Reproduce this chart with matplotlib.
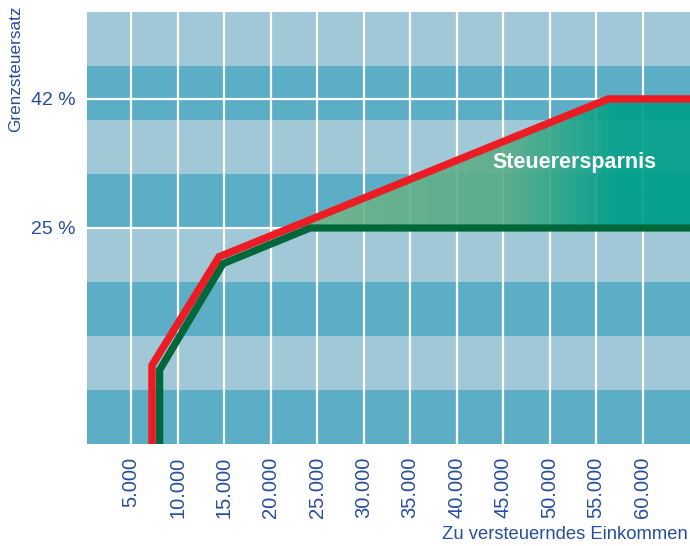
import numpy as np
import matplotlib.pyplot as plt
import matplotlib.transforms as mtransforms
from matplotlib.colors import LinearSegmentedColormap
from matplotlib.patches import Polygon

# income (EUR) and marginal rate (%)
income_red = [7260, 7260, 14460, 56300, 65100]
rate_red = [-5, 6.9, 21.2, 42, 42]
income_green = [8080, 8080, 14890, 24250, 65100]
rate_green = [-5, 6.3, 20.3, 25, 25]

xticks = [5000, 10000, 15000, 20000, 25000, 30000, 35000, 40000, 45000, 50000, 55000, 60000]
xticklabels = ['5.000', '10.000', '15.000', '20.000', '25.000', '30.000',
               '35.000', '40.000', '45.000', '50.000', '55.000', '60.000']
yticks = [25, 42]
yticklabels = ['25 %', '42 %']

blue_txt = '#274e9e'
light_band = '#a0c8d7'
dark_band = '#5cadc6'
red = '#ec1c24'
green = '#006838'

plt.rcParams['font.family'] = ['Liberation Sans', 'DejaVu Sans']

fig = plt.figure(figsize=(6.9, 5.46), dpi=100)
ax = fig.add_axes([87/690, 102/546, 603/690, 432/546])

xmin, xmax = 270, 65100
ymin, ymax = -3.46, 53.46
ax.set_xlim(xmin, xmax)
ax.set_ylim(ymin, ymax)

# horizontal background bands, light on top
edges = np.linspace(ymax, ymin, 9)
for i in range(8):
    c = light_band if i % 2 == 0 else dark_band
    ax.axhspan(edges[i + 1], edges[i], color=c, lw=0, zorder=0)

for x in xticks:
    ax.axvline(x, color='white', lw=1.6, zorder=1)
for y in yticks:
    ax.axhline(y, color='white', lw=1.6, zorder=1)

# savings area between red curve and the flat 25 % line
x_cross = np.interp(25, rate_red[2:4], income_red[2:4])
verts = [(x_cross, 25)] + [(x, y) for x, y in zip(income_red, rate_red) if y > 25]
verts += [(income_red[-1], 25)]
poly = Polygon(verts, closed=True, facecolor='none', edgecolor='none')
ax.add_patch(poly)

cmap = LinearSegmentedColormap.from_list(
    'spar', [(0.0, '#74b68a'), (0.55, '#5aad89'), (0.82, '#00a08a'), (1.0, '#00a08a')])
grad = np.linspace(0, 1, 400).reshape(1, -1)
im = ax.imshow(grad, cmap=cmap, extent=[x_cross, xmax, 25, 42], aspect='auto',
               alpha=0.92, zorder=2, interpolation='bilinear')
im.set_clip_path(poly)

ax.plot(income_green, rate_green, color=green, lw=5.2, solid_joinstyle='miter',
        solid_capstyle='butt', zorder=3)
ax.plot(income_red, rate_red, color=red, lw=5.4, solid_joinstyle='miter',
        solid_capstyle='butt', zorder=4)

ax.text(52700, 33.6, 'Steuerersparnis', color='white', fontsize=15.5, fontweight='bold',
        ha='center', va='center', zorder=5)

ax.set_xticks(xticks)
ax.set_xticklabels(xticklabels, rotation=90, fontsize=14.5, color=blue_txt)
shift = mtransforms.ScaledTranslation(3/100, 0, fig.dpi_scale_trans)
for lab in ax.get_xticklabels():
    lab.set_transform(lab.get_transform() + shift)
ax.set_yticks(yticks)
ax.set_yticklabels(yticklabels, fontsize=14, color=blue_txt)
ax.tick_params(axis='x', length=0, pad=9)
ax.tick_params(axis='y', length=0, pad=8)
for s in ax.spines.values():
    s.set_visible(False)

fig.text(16/690, 1 - 5/546, 'Grenzsteuersatz', rotation=90, ha='center', va='top',
         fontsize=12.3, color=blue_txt)
fig.text(688/690, 3/546, 'Zu versteuerndes Einkommen', ha='right', va='bottom',
         fontsize=13.2, color=blue_txt)

fig.savefig('out.png', dpi=100)
